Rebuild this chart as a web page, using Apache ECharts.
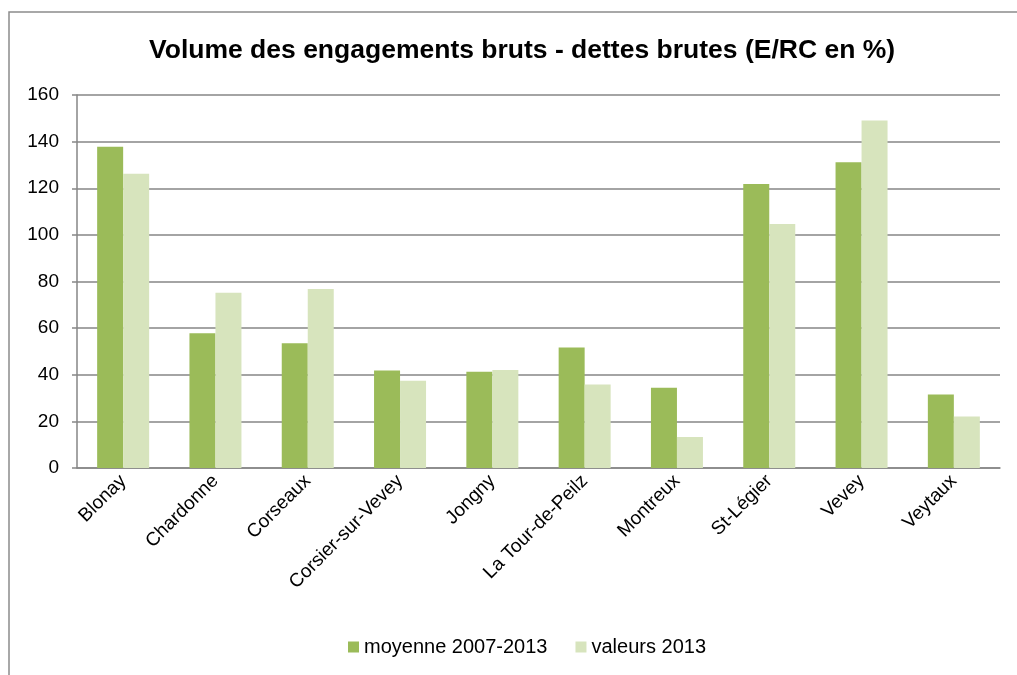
<!DOCTYPE html>
<html>
<head>
<meta charset="utf-8">
<script src="https://cdn.jsdelivr.net/npm/echarts@6/dist/echarts.min.js"></script>
<style>
  html, body { margin: 0; padding: 0; background: #fff; }
  #chart { width: 1017px; height: 675px; }
</style>
</head>
<body>
<div id="chart"></div>
<script>
  // communes
  var categories = ['Blonay', 'Chardonne', 'Corseaux', 'Corsier-sur-Vevey', 'Jongny',
    'La Tour-de-Peilz', 'Montreux', 'St-Légier', 'Vevey', 'Veytaux'];
  var moyenne = [137.8, 57.8, 53.5, 41.8, 41.3, 51.7, 34.4, 121.8, 131.1, 31.5];
  var valeurs2013 = [126.2, 75.2, 76.8, 37.4, 42.0, 35.8, 13.3, 104.7, 149.1, 22.1];
  var seriesNames = ['moyenne 2007-2013', 'valeurs 2013'];

  var font = '"Liberation Sans", Arial, sans-serif';
  var chart = echarts.init(document.getElementById('chart'));
  chart.setOption({
    animation: false,
    title: {
      text: 'Volume des engagements bruts - dettes brutes (E/RC en %)',
      left: 144,
      top: 32,
      textStyle: {fontFamily: font, fontSize: 26.5, fontWeight: 'bold', color: '#000'}
    },
    graphic: [{
      type: 'rect',
      shape: {x: 9, y: 12, width: 1100, height: 800},
      style: {fill: 'none', stroke: '#8c8c8c', lineWidth: 1.5},
      silent: true
    }],
    legend: {
      bottom: 13,
      left: 343,
      itemWidth: 11,
      itemHeight: 11,
      itemGap: 28,
      icon: 'rect',
      textStyle: {fontFamily: font, fontSize: 20, color: '#000'},
      data: seriesNames
    },
    grid: {left: 77, right: 17, top: 95, bottom: 207},
    xAxis: {
      type: 'category',
      data: categories,
      axisLine: {lineStyle: {color: '#868686', width: 1.5}},
      axisTick: {length: 5, lineStyle: {color: '#868686', width: 1.5}},
      axisLabel: {
        rotate: 45, interval: 0, margin: 10,
        fontFamily: font, fontSize: 19, color: '#000'
      }
    },
    yAxis: {
      type: 'value',
      min: 0, max: 160, interval: 20,
      axisLine: {show: true, lineStyle: {color: '#868686', width: 1.5}},
      axisTick: {show: true, length: 5, lineStyle: {color: '#868686', width: 1.5}},
      splitLine: {lineStyle: {color: '#868686', width: 1.5}},
      axisLabel: {fontFamily: font, fontSize: 19, color: '#000', margin: 18}
    },
    series: [
      {
        name: seriesNames[0], type: 'bar', data: moyenne,
        barWidth: 26, barGap: '0%',
        itemStyle: {color: '#9bbb59'}
      },
      {
        name: seriesNames[1], type: 'bar', data: valeurs2013,
        barWidth: 26, barGap: '0%',
        itemStyle: {color: '#d7e4bd'}
      }
    ]
  });
</script>
</body>
</html>
